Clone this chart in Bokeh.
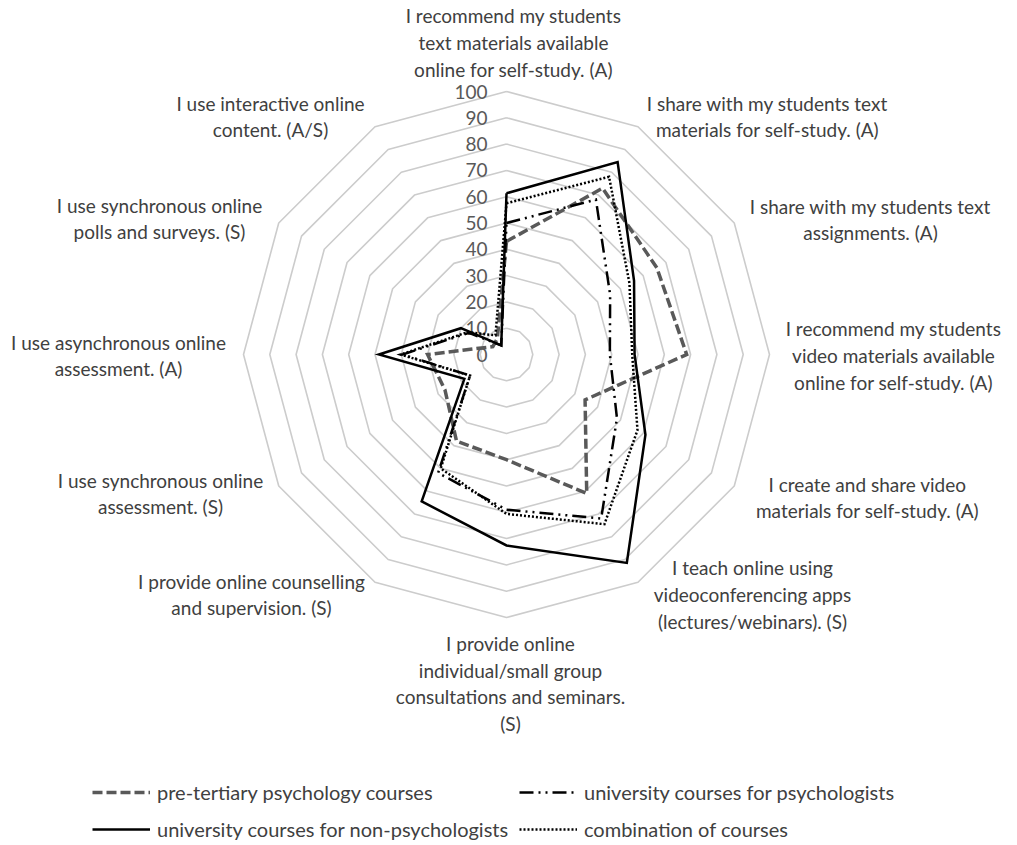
import numpy as np
from bokeh.plotting import figure
from bokeh.models import Range1d, Legend, LegendItem
from bokeh.core.properties import value
from bokeh.embed import file_html
from bokeh.resources import INLINE

# ---------------- data ----------------
categories = [
    "I recommend my students\ntext materials available\nonline for self-study. (A)",
    "I share with my students text\nmaterials for self-study. (A)",
    "I share with my students text\nassignments. (A)",
    "I recommend my students\nvideo materials available\nonline for self-study. (A)",
    "I create and share video\nmaterials for self-study. (A)",
    "I teach online using\nvideoconferencing apps\n(lectures/webinars). (S)",
    "I provide online\nindividual/small group\nconsultations and seminars.\n(S)",
    "I provide online counselling\nand supervision. (S)",
    "I use synchronous online\nassessment. (S)",
    "I use asynchronous online\nassessment. (A)",
    "I use synchronous online\npolls and surveys. (S)",
    "I use interactive online\ncontent. (A/S)",
]
pre_tertiary = [43, 73, 66, 68.5, 34.5, 61, 40, 38, 27, 30, 6, 7]
univ_psych = [50, 68, 45.5, 39.3, 48.5, 72, 59, 52, 16, 39.5, 16.5, 4]
univ_nonpsych = [61.3, 84.5, 56, 48.7, 61, 91.5, 72.6, 64.5, 18.5, 48.5, 20, 4]
combination = [57.5, 78, 54, 47.8, 57.5, 74.5, 60.6, 50, 16, 40.3, 17, 8.4]
series_names = ["pre-tertiary psychology courses", "university courses for psychologists",
                "university courses for non-psychologists", "combination of courses"]
ticks = [0, 10, 20, 30, 40, 50, 60, 70, 80, 90, 100]

# ---------------- layout ----------------
W, H = 1017, 845
S = 2.63            # pixels per value unit
CX, CY = 506, 354   # chart centre in canvas pixels (from top-left)
FONT = "Lato"
TXT = "#404040"

p = figure(width=W, height=H, output_backend="svg", toolbar_location=None,
           x_range=Range1d(-CX / S, (W - CX) / S), y_range=Range1d(-(H - CY) / S, CY / S),
           min_border=0)
p.axis.visible = False
p.grid.visible = False
p.outline_line_color = None

n = len(categories)
theta = np.pi / 2 - 2 * np.pi * np.arange(n) / n

def polar(vals):
    v = np.asarray(vals, dtype=float)
    x = v * np.cos(theta)
    y = v * np.sin(theta)
    return np.append(x, x[0]), np.append(y, y[0])

# grid polygons
for lv in ticks[1:]:
    gx, gy = polar([lv] * n)
    p.line(gx, gy, line_color="#cccccc", line_width=1.6)

# tick labels
p.text(x=[0] * len(ticks), y=ticks, text=[str(t) for t in ticks],
       text_font=value(FONT), text_font_size="19px", text_color="#595959",
       text_align="right", text_baseline="middle", x_offset=-19)

# series
styles = [
    dict(line_color="#595959", line_width=3.5, line_dash="10 4"),
    dict(line_color="black", line_width=2.5, line_dash="14 5 2 5 2 5"),
    dict(line_color="black", line_width=2.5),
    dict(line_color="black", line_width=2.5, line_dash="2 2"),
]
renderers = []
for vals, st in zip([pre_tertiary, univ_psych, univ_nonpsych, combination], styles):
    sx, sy = polar(vals)
    r = p.line(sx, sy, line_join="miter", **st)
    renderers.append(r)

# category labels (block centres, pixel offsets from chart centre)
label_off = [(7, 312), (261, 238), (364, 135), (387, -1), (361, -143), (246, -240),
             (4, -329), (-255, -240), (-346, -139), (-388, -1), (-347, 136), (-236, 238)]
lx = [o[0] / S for o in label_off]
ly = [o[1] / S for o in label_off]
p.text(x=lx, y=ly, text=categories, text_font=value(FONT), text_font_size="19px",
       text_color=TXT, text_align="center", text_baseline="middle", text_line_height=1.16)

# legends (two columns)
common = dict(orientation="vertical", spacing=13, glyph_width=58, glyph_height=20,
              label_height=20, label_standoff=7, padding=0, margin=0,
              border_line_color=None, background_fill_alpha=0,
              label_text_font=FONT, label_text_font_size="20px", label_text_color=TXT)
leg1 = Legend(items=[LegendItem(label=series_names[0], renderers=[renderers[0]]),
                     LegendItem(label=series_names[2], renderers=[renderers[2]])],
              location=(92, 4), **common)
leg2 = Legend(items=[LegendItem(label=series_names[1], renderers=[renderers[1]]),
                     LegendItem(label=series_names[3], renderers=[renderers[3]])],
              location=(519, 4), **common)
p.add_layout(leg1)
p.add_layout(leg2)

open("out.html", "w").write(file_html(p, INLINE))
